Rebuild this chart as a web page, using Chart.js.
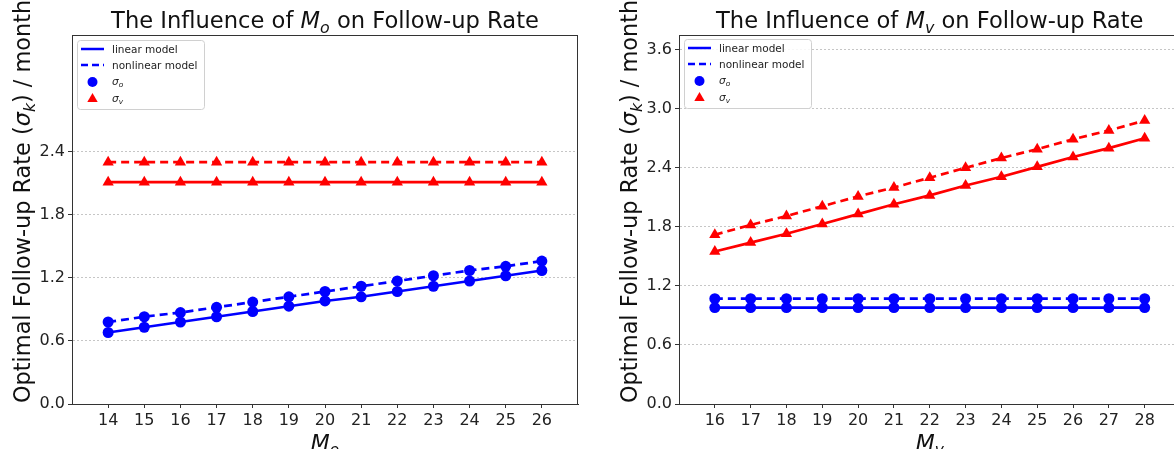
<!DOCTYPE html>
<html>
<head>
<meta charset="utf-8">
<script src="https://cdn.jsdelivr.net/npm/chart.js@4.4.0/dist/chart.umd.min.js"></script>
<style>
  html, body { margin: 0; padding: 0; background: #fff; overflow: hidden; }
  #wrap { position: relative; width: 1174px; height: 449px; overflow: hidden; }
  canvas { position: absolute; top: 0; }
</style>
</head>
<body>
<div id="wrap">
  <canvas id="chartMo" width="587" height="449" style="left:0"></canvas>
  <canvas id="chartMv" width="600" height="449" style="left:587px"></canvas>
</div>
<script>
// left panel: M_o from 14 to 26
const moValues = [14, 15, 16, 17, 18, 19, 20, 21, 22, 23, 24, 25, 26];
const moSigmaOLinear = [0.68, 0.73, 0.78, 0.83, 0.88, 0.93, 0.98, 1.02, 1.07, 1.12, 1.17, 1.22, 1.27];
const moSigmaONonlinear = [0.78, 0.83, 0.87, 0.92, 0.97, 1.02, 1.07, 1.12, 1.17, 1.22, 1.27, 1.31, 1.36];
const moSigmaVLinear = [2.11, 2.11, 2.11, 2.11, 2.11, 2.11, 2.11, 2.11, 2.11, 2.11, 2.11, 2.11, 2.11];
const moSigmaVNonlinear = [2.30, 2.30, 2.30, 2.30, 2.30, 2.30, 2.30, 2.30, 2.30, 2.30, 2.30, 2.30, 2.30];
const moYTicks = [0.0, 0.6, 1.2, 1.8, 2.4];

// right panel: M_v from 16 to 28
const mvValues = [16, 17, 18, 19, 20, 21, 22, 23, 24, 25, 26, 27, 28];
const mvSigmaOLinear = [0.98, 0.98, 0.98, 0.98, 0.98, 0.98, 0.98, 0.98, 0.98, 0.98, 0.98, 0.98, 0.98];
const mvSigmaONonlinear = [1.07, 1.07, 1.07, 1.07, 1.07, 1.07, 1.07, 1.07, 1.07, 1.07, 1.07, 1.07, 1.07];
const mvSigmaVLinear = [1.55, 1.64, 1.73, 1.83, 1.93, 2.03, 2.12, 2.22, 2.31, 2.41, 2.51, 2.60, 2.70];
const mvSigmaVNonlinear = [1.72, 1.82, 1.91, 2.01, 2.11, 2.20, 2.30, 2.40, 2.50, 2.59, 2.69, 2.78, 2.88];
const mvYTicks = [0.0, 0.6, 1.2, 1.8, 2.4, 3.0, 3.6];

const FONT = '"DejaVu Sans", "Liberation Sans", sans-serif';
const BLUE = "#0000ff";
const RED = "#ff0000";
const DASH = [8, 5];

// draw text made of parts {t, it, sub}
function richWidth(ctx, parts, size) {
  let w = 0;
  parts.forEach(p => {
    ctx.font = (p.it ? "italic " : "") + (p.sub ? size * 0.7 : size) + "px " + FONT;
    w += ctx.measureText(p.t).width;
  });
  return w;
}
function drawRich(ctx, parts, x, y, size, align, color) {
  const w = richWidth(ctx, parts, size);
  let cx = align === "center" ? x - w / 2 : x;
  ctx.fillStyle = color;
  ctx.textBaseline = "alphabetic";
  ctx.textAlign = "left";
  parts.forEach(p => {
    ctx.font = (p.it ? "italic " : "") + (p.sub ? size * 0.7 : size) + "px " + FONT;
    ctx.fillText(p.t, cx, y + (p.sub ? size * 0.22 : 0));
    cx += ctx.measureText(p.t).width;
  });
}

function series(xs, ys) {
  return xs.map((x, i) => ({ x: x, y: ys[i] }));
}

function makeDatasets(xs, oLin, oNon, vLin, vNon) {
  return [
    { label: "sigma_o linear", data: series(xs, oLin), borderColor: BLUE, backgroundColor: BLUE,
      pointStyle: "circle", pointRadius: 5.5, borderWidth: 2.7, pointBorderWidth: 0 },
    { label: "sigma_o nonlinear", data: series(xs, oNon), borderColor: BLUE, backgroundColor: BLUE,
      pointStyle: "circle", pointRadius: 5.5, borderWidth: 2.7, pointBorderWidth: 0, borderDash: DASH },
    { label: "sigma_v linear", data: series(xs, vLin), borderColor: RED, backgroundColor: RED,
      pointStyle: "triangle", pointRadius: 6.5, borderWidth: 2.7, pointBorderWidth: 0 },
    { label: "sigma_v nonlinear", data: series(xs, vNon), borderColor: RED, backgroundColor: RED,
      pointStyle: "triangle", pointRadius: 6.5, borderWidth: 2.7, pointBorderWidth: 0, borderDash: DASH }
  ];
}

const decorations = {
  id: "decorations",
  afterDraw(chart, args, o) {
    const ctx = chart.ctx;
    const a = chart.chartArea;
    ctx.save();
    // axes box
    ctx.strokeStyle = "#333";
    ctx.lineWidth = 1;
    ctx.setLineDash([]);
    ctx.strokeRect(a.left + 0.5, a.top + 0.5, a.right - a.left - 1, a.bottom - a.top);

    // title
    const cx = (a.left + a.right) / 2;
    drawRich(ctx, [{ t: "The Influence of " }, { t: "M", it: true }, { t: o.sub, it: true, sub: true },
      { t: " on Follow-up Rate" }], cx, 28, 22.6, "center", "#111");

    // x axis title
    drawRich(ctx, [{ t: "M", it: true }, { t: o.sub, it: true, sub: true }], cx, 450, 22, "center", "#111");

    // y axis title
    ctx.save();
    ctx.translate(o.ylabelX, 403);
    ctx.rotate(-Math.PI / 2);
    drawRich(ctx, [{ t: "Optimal Follow-up Rate (" }, { t: "σ", it: true }, { t: "k", it: true, sub: true },
      { t: ") / month" }], 0, 0, 22.4, "left", "#111");
    ctx.restore();

    // legend
    const lx = o.legendX, ly = o.legendY, lw = 127, lh = 69;
    ctx.fillStyle = "rgba(255,255,255,0.85)";
    ctx.strokeStyle = "#d0d0d0";
    ctx.lineWidth = 1;
    ctx.beginPath();
    ctx.roundRect(lx + 0.5, ly + 0.5, lw, lh, 3);
    ctx.fill();
    ctx.stroke();
    const rows = [ly + 9, ly + 25, ly + 42, ly + 59];
    const hx1 = lx + 4, hx2 = lx + 27, hxm = (hx1 + hx2) / 2, tx = lx + 35;
    ctx.strokeStyle = BLUE;
    ctx.lineWidth = 2.5;
    ctx.beginPath(); ctx.moveTo(hx1, rows[0]); ctx.lineTo(hx2, rows[0]); ctx.stroke();
    ctx.setLineDash([7, 4]);
    ctx.beginPath(); ctx.moveTo(hx1, rows[1]); ctx.lineTo(hx2, rows[1]); ctx.stroke();
    ctx.setLineDash([]);
    ctx.fillStyle = BLUE;
    Chart.helpers.drawPoint(ctx, { pointStyle: "circle", radius: 5, borderWidth: 0 }, hxm, rows[2]);
    ctx.fillStyle = RED;
    Chart.helpers.drawPoint(ctx, { pointStyle: "triangle", radius: 6, borderWidth: 0 }, hxm, rows[3]);
    const fs = 10.5;
    drawRich(ctx, [{ t: "linear model" }], tx, rows[0] + 4, fs, "left", "#222");
    drawRich(ctx, [{ t: "nonlinear model" }], tx, rows[1] + 4, fs, "left", "#222");
    drawRich(ctx, [{ t: "σ", it: true }, { t: "o", it: true, sub: true }], tx, rows[2] + 3, fs, "left", "#222");
    drawRich(ctx, [{ t: "σ", it: true }, { t: "v", it: true, sub: true }], tx, rows[3] + 3, fs, "left", "#222");
    ctx.restore();
  }
};

function makeConfig(xs, datasets, xMin, xMax, yMax, yTicks, axisLeft, padRight, deco) {
  return {
    type: "line",
    data: { datasets: datasets },
    plugins: [decorations],
    options: {
      responsive: false,
      animation: false,
      devicePixelRatio: 1,
      layout: { padding: { top: 35, right: padRight, left: 0, bottom: 0 } },
      plugins: {
        legend: { display: false },
        tooltip: { enabled: false },
        decorations: deco
      },
      scales: {
        x: {
          type: "linear",
          min: xMin,
          max: xMax,
          afterBuildTicks: s => { s.ticks = xs.map(v => ({ value: v })); },
          afterFit: s => { s.height = 45; },
          grid: { drawOnChartArea: false, drawTicks: true, tickLength: 4, tickColor: "#333", tickWidth: 1 },
          border: { display: true, color: "#333", width: 1 },
          ticks: { color: "#222", font: { family: FONT, size: 16 }, padding: 3, maxRotation: 0,
                   callback: v => String(v) }
        },
        y: {
          type: "linear",
          min: 0,
          max: yMax,
          afterBuildTicks: s => { s.ticks = yTicks.map(v => ({ value: v })); },
          afterFit: s => { s.width = axisLeft; },
          grid: { drawOnChartArea: true, color: "#b8b8b8", lineWidth: 0.8, drawTicks: true, tickLength: 4,
                  tickColor: "#333", tickWidth: 1 },
          border: { display: true, color: "#333", width: 1, dash: [2, 2] },
          ticks: { color: "#222", font: { family: FONT, size: 16 }, padding: 3,
                   callback: v => Number(v).toFixed(1) }
        }
      }
    }
  };
}

new Chart(document.getElementById("chartMo"), makeConfig(
  moValues,
  makeDatasets(moValues, moSigmaOLinear, moSigmaONonlinear, moSigmaVLinear, moSigmaVNonlinear),
  13, 27, 3.51, moYTicks, 72, 9,
  { sub: "o", ylabelX: 30, legendX: 77, legendY: 40 }
));

new Chart(document.getElementById("chartMv"), makeConfig(
  mvValues,
  makeDatasets(mvValues, mvSigmaOLinear, mvSigmaONonlinear, mvSigmaVLinear, mvSigmaVNonlinear),
  15, 29, 3.75, mvYTicks, 92, 2,
  { sub: "v", ylabelX: 50, legendX: 97, legendY: 39 }
));
</script>
</body>
</html>
